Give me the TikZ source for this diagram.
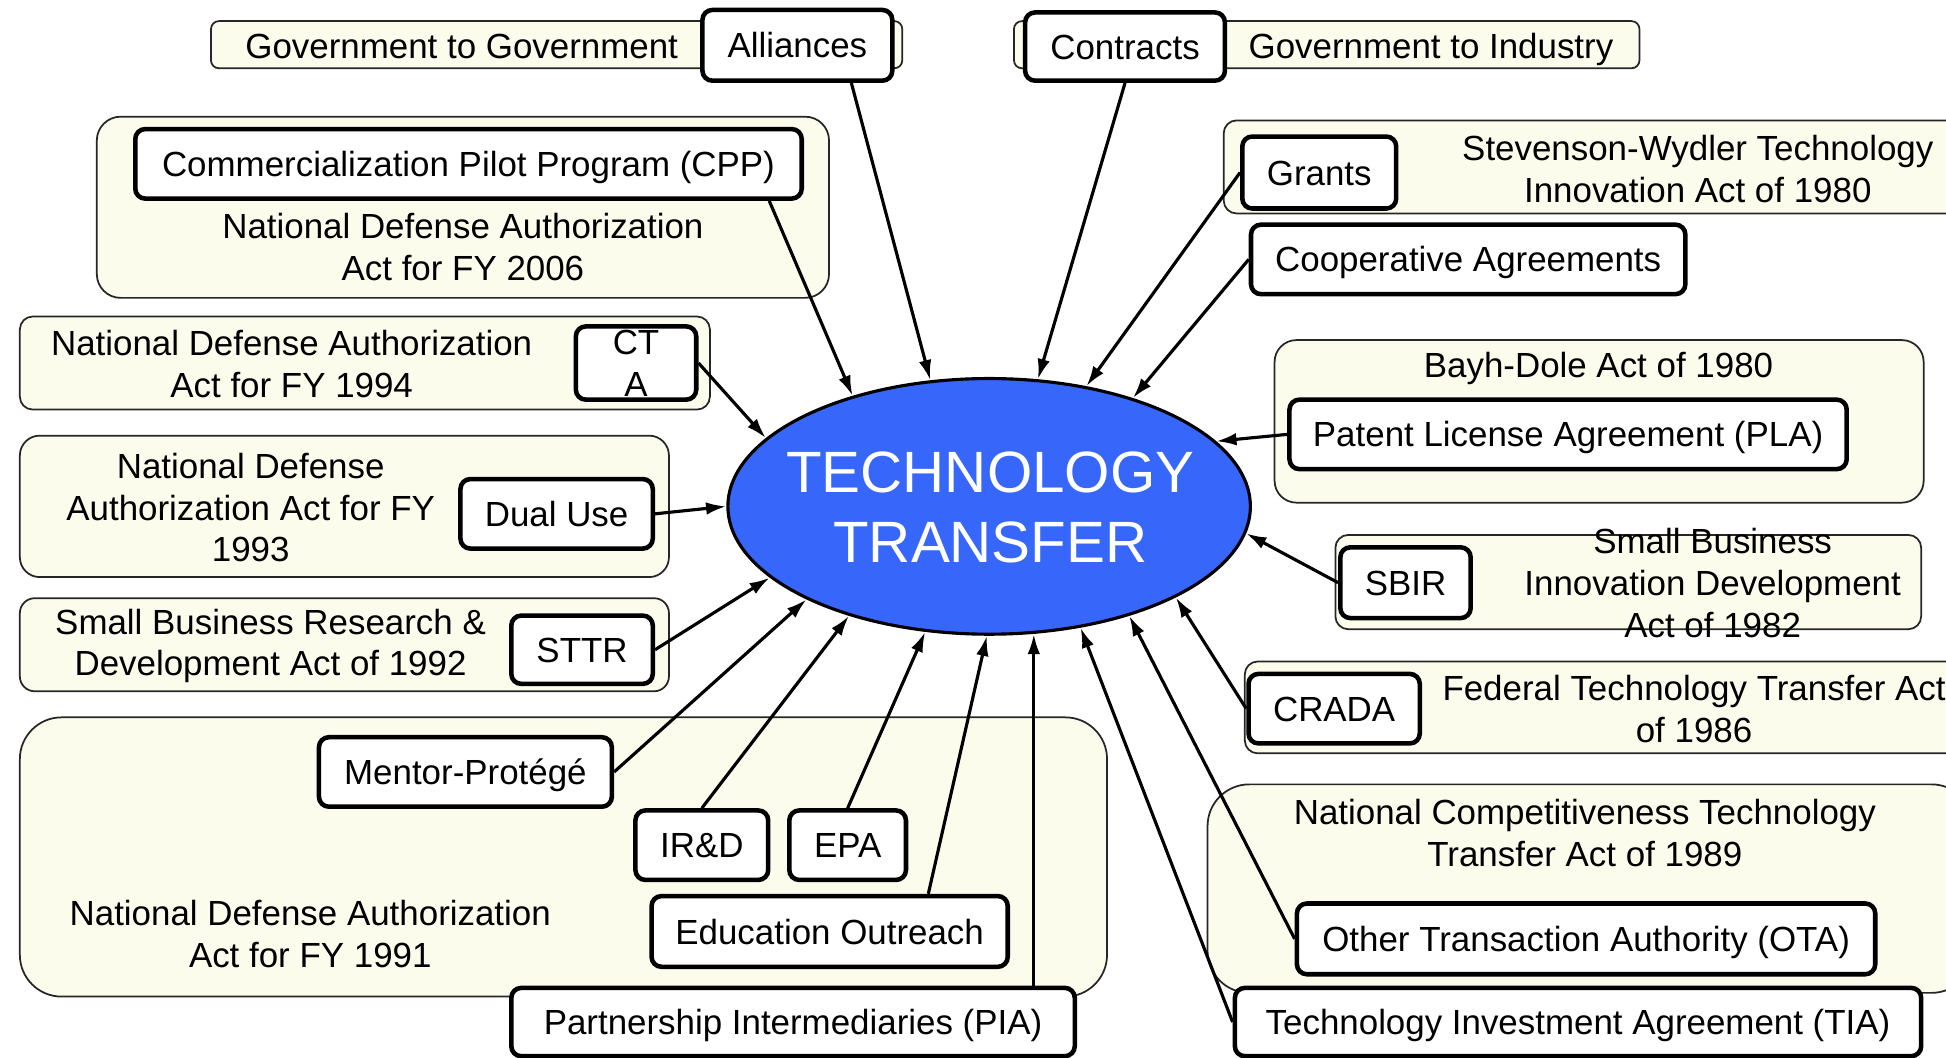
\documentclass[tikz,border=0pt]{standalone}
\usepackage{fontspec}
\setmainfont{Liberation Sans}
\usetikzlibrary{shapes.geometric,arrows.meta,calc}
\definecolor{cream}{RGB}{252,252,236}
\definecolor{ttblue}{RGB}{55,102,250}
\begin{document}
\begin{tikzpicture}[x=0.0125cm,y=-0.0125cm,
  sz/.style 2 args={minimum width=#1*0.0125cm, minimum height=#2*0.0125cm},
  grp/.style={draw=black!85, line width=0.5pt, fill=cream, inner sep=0pt},
  keybox/.style={draw=black, line width=1.3pt, fill=white, rounded corners=0.1cm, inner sep=0pt},
  key/.style={keybox, text height=0.72em, text depth=0pt},
  lbl/.style={inner sep=0pt, align=center},
  lblone/.style={inner sep=0pt, text height=0.72em, text depth=0pt},
  arr/.style={-{Latex[length=5.8pt,width=3.6pt]}, line width=0.9pt},
  every node/.append style={font=\fontsize{10}{12}\selectfont},
]
\useasboundingbox (0,0) rectangle (1568,852);

% group (cream) boxes
\node[grp, rounded corners=0.08cm, sz={557}{38}] (g2g) at (448.5,36) {};
\node[grp, rounded corners=0.08cm, sz={504}{38}] (g2i) at (1069,36) {};
\node[grp, rounded corners=0.24cm, sz={590}{146}] (gcpp) at (373,167) {};
\node[grp, rounded corners=0.13cm, sz={556}{75}] (gcta) at (294,292.5) {};
\node[grp, rounded corners=0.2cm, sz={523}{114}] (gdual) at (277.5,408) {};
\node[grp, rounded corners=0.15cm, sz={523}{75}] (gsttr) at (277.5,519.5) {};
\node[grp, rounded corners=0.42cm, sz={876}{225}] (g91) at (454,690.5) {};
\node[grp, rounded corners=0.13cm, sz={604}{75}] (gsw) at (1288,134.5) {};
\node[grp, rounded corners=0.22cm, sz={523}{131}] (gbd) at (1288.5,339.5) {};
\node[grp, rounded corners=0.13cm, sz={472}{76}] (gsbir) at (1312,469) {};
\node[grp, rounded corners=0.13cm, sz={587}{74}] (gcrada) at (1296.5,570) {};
\node[grp, rounded corners=0.42cm, sz={617}{168}] (gnc) at (1281.5,716) {};

% group labels
\node[lblone] (lg2g) at (372,37) {Government to Government};
\node[lblone] (lg2i) at (1153,37) {Government to Industry};
\node[lbl] (lcpp) at (373,199) {National Defense Authorization\\Act for FY 2006};
\node[lbl] (lcta) at (235,293) {National Defense Authorization\\Act for FY 1994};
\node[lbl] (ldual) at (202,409) {National Defense\\Authorization Act for FY\\1993};
\node[lbl] (lsttr) at (218,520.5) {Small Business Research \&\\Development Act of 1992};
\node[lbl] (l91) at (250,752.5) {National Defense Authorization\\Act for FY 1991};
\node[lbl] (lsw) at (1368,136.5) {Stevenson-Wydler Technology\\Innovation Act of 1980};
\node[lblone] (lbd) at (1288,294) {Bayh-Dole Act of 1980};
\node[lbl] (lsbir) at (1380,470) {Small Business\\Innovation Development\\Act of 1982};
\node[lbl] (lcrada) at (1365,571.5) {Federal Technology Transfer Act\\of 1986};
\node[lbl] (lnc) at (1277,671) {National Competitiveness Technology\\Transfer Act of 1989};

% key boxes
\node[key, sz={153}{57}] (alliances) at (642.5,36.5) {Alliances};
\node[key, sz={161}{55}] (contracts) at (906.5,37.5) {Contracts};
\node[key, sz={537}{56}] (cpp) at (377.5,132) {Commercialization Pilot Program (CPP)};
\node[keybox, sz={97}{59}, align=center] (cta) at (512.5,292.5) {CT\\A};
\node[key, sz={155}{56}] (dual) at (448.5,414) {Dual Use};
\node[key, sz={114}{55}] (sttr) at (469,523.5) {STTR};
\node[key, sz={236}{56}] (mentor) at (375,622) {Mentor-Protégé};
\node[key, sz={107}{56}] (ird) at (565.5,681) {IR\&D};
\node[key, sz={94}{56}] (epa) at (683,681) {EPA};
\node[key, sz={287}{57}] (edu) at (668.5,750.5) {Education Outreach};
\node[key, sz={454}{55}] (pia) at (639,823.5) {Partnership Intermediaries (PIA)};
\node[key, sz={466}{57}] (ota) at (1278,756.5) {Other Transaction Authority (OTA)};
\node[key, sz={553}{55}] (tia) at (1271.5,823.5) {Technology Investment Agreement (TIA)};
\node[key, sz={138}{56}] (crada) at (1075,571) {CRADA};
\node[key, sz={105}{57}] (sbir) at (1132.5,469.5) {SBIR};
\node[key, sz={449}{56}] (pla) at (1263.5,350) {Patent License Agreement (PLA)};
\node[key, sz={350}{56}] (coop) at (1183,209) {Cooperative Agreements};
\node[key, sz={124}{58}] (grants) at (1063,139) {Grants};

% central ellipse
\node[ellipse, draw=black, line width=0.9pt, fill=ttblue, inner sep=0pt, sz={421}{206}] (tt) at (797,408) {};
\node[lbl, text=white, font=\fontsize{16.7}{20}\selectfont] (ttl) at (798,409) {TECHNOLOGY\\TRANSFER};

% connectors
\draw[arr] ($(alliances.south)+(43.5,0)$) -- (tt.115.6);
\draw[arr] ($(cpp.south east)+(-28,0)$) -- (tt.141.5);
\draw[arr] (cta.east) -- (tt.163.9);
\draw[arr] (dual.east) -- (tt.180);
\draw[arr] (sttr.east) -- (tt.198.7);
\draw[arr] (mentor.east) -- (tt.207);
\draw[arr] (ird.north) -- (tt.218.5);
\draw[arr] (epa.north) -- (tt.243.9);
\draw[arr] ($(edu.north)+(79.5,0)$) -- (tt.269);
\draw[arr] ($(pia.north)+(194,0)$) coordinate (piastart) -- (piastart |- tt.289);
\draw[arr] (tia.west) -- (tt.307.2);
\draw[arr] (ota.west) -- (tt.322.3);
\draw[arr] (crada.west) -- (tt.334.6);
\draw[arr] (sbir.west) -- (tt.354);
\draw[arr] (pla.west) -- (tt.16.3);
\draw[arr] (coop.west) -- (tt.37.4);
\draw[arr] (grants.west) -- (tt.51.9);
\draw[arr] (contracts.south) -- (tt.69.6);
\end{tikzpicture}
\end{document}
